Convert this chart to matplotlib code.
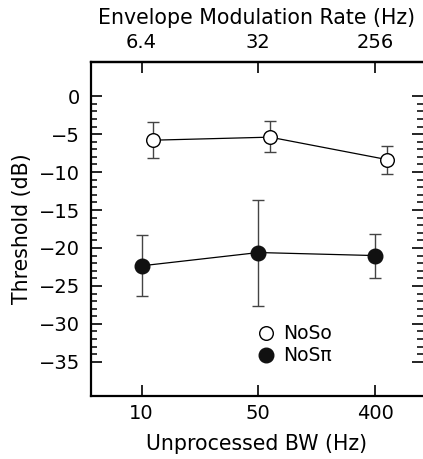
import numpy as np
import matplotlib
matplotlib.use("Agg")
import matplotlib.pyplot as plt
from matplotlib.ticker import FixedLocator
from matplotlib.lines import Line2D

# data
bw_labels = ["10", "50", "400"]
rate_labels = ["6.4", "32", "256"]

noso_mean = [-5.8, -5.4, -8.35]
noso_hi = [-3.4, -3.3, -6.5]
noso_lo = [-8.2, -7.4, -10.3]

nospi_mean = [-22.35, -20.6, -21.0]
nospi_hi = [-18.3, -13.7, -18.1]
nospi_lo = [-26.35, -27.6, -23.9]

plt.rcParams['font.family'] = ['DejaVu Sans']
fs_tick = 14
fs_lab = 14.8

fig = plt.figure(figsize=(4.23, 4.59), dpi=100)
ax = fig.add_axes([91/423, 63/459, 1 - 91/423, (396 - 62)/459])

x = np.arange(len(bw_labels))
off = 0.1

err_noso = [np.array(noso_mean) - np.array(noso_lo), np.array(noso_hi) - np.array(noso_mean)]
err_nospi = [np.array(nospi_mean) - np.array(nospi_lo), np.array(nospi_hi) - np.array(nospi_mean)]

ax.errorbar(x + off, noso_mean, yerr=err_noso, color='black', ecolor='#444444',
            elinewidth=1.0, capsize=4.5, capthick=1.0, lw=0.9,
            marker='o', ms=9.8, mfc='white', mec='black', mew=1.0, zorder=3)
ax.errorbar(x, nospi_mean, yerr=err_nospi, color='black', ecolor='#444444',
            elinewidth=1.0, capsize=4.5, capthick=1.0, lw=0.9,
            marker='o', ms=10.5, mfc='#111111', mec='#111111', mew=1.0, zorder=3)

ax.set_xlim(-0.433, 2.41)
ax.set_ylim(-39.5, 4.5)

ax.set_xticks(x)
ax.set_xticklabels(bw_labels)
ax.set_yticks(np.arange(-35, 1, 5))
ax.yaxis.set_minor_locator(FixedLocator(np.arange(-35, 0, 1)))

ax.spines['right'].set_visible(False)
for s in ['left', 'top', 'bottom']:
    ax.spines[s].set_linewidth(1.6)

ax.tick_params(axis='both', which='major', direction='in', length=8, width=1.2,
               labelsize=fs_tick)
ax.tick_params(axis='y', which='both', right=True, direction='in')
ax.tick_params(axis='y', which='minor', length=4, width=1.1)
ax.tick_params(axis='y', which='major', pad=8)
ax.tick_params(axis='x', which='major', pad=6)

ax2 = ax.secondary_xaxis('top')
ax2.set_xticks(x)
ax2.set_xticklabels(rate_labels)
ax2.tick_params(direction='in', length=8, width=1.2, labelsize=fs_tick, pad=7.5)
ax2.spines['top'].set_linewidth(1.6)
ax2.set_xlabel('Envelope Modulation Rate (Hz)', fontsize=fs_lab, labelpad=6)

ax.set_xlabel('Unprocessed BW (Hz)', fontsize=fs_lab, labelpad=8)
ax.set_ylabel('Threshold (dB)', fontsize=fs_lab, labelpad=5)

handles = [
    Line2D([], [], ls='none', marker='o', ms=9.8, mfc='white', mec='black', mew=1.0),
    Line2D([], [], ls='none', marker='o', ms=10.5, mfc='#111111', mec='#111111', mew=1.0),
]
ax.legend(handles, ['NoSo', 'NoS\u03c0'], loc='upper left', bbox_to_anchor=(0.476, 0.237),
          frameon=False, fontsize=13.5, handletextpad=0.4, labelspacing=0.15,
          handlelength=1.0, borderaxespad=0)

fig.savefig('out.png', dpi=100)
